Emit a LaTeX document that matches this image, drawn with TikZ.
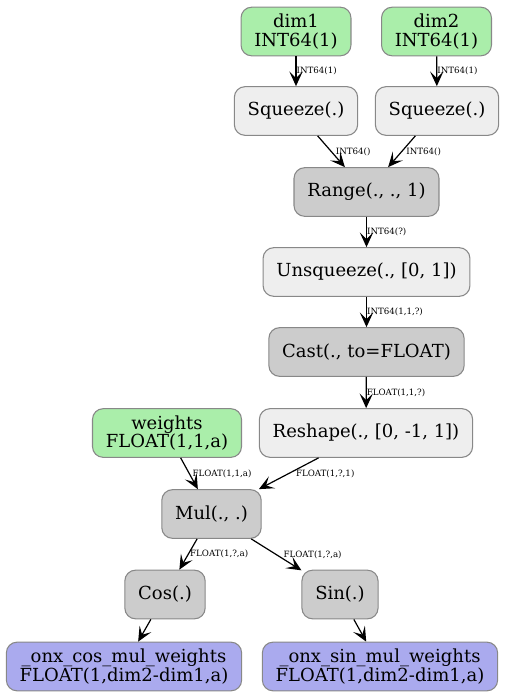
\documentclass[tikz,border=0pt]{standalone}
\usepackage{fontspec}
\setmainfont{DejaVu Serif}
\usetikzlibrary{arrows.meta}
\definecolor{inpgreen}{HTML}{AAEEAA}
\definecolor{outblue}{HTML}{AAAAEE}
\definecolor{oplight}{HTML}{EEEEEE}
\definecolor{opdark}{HTML}{CCCCCC}
\definecolor{boxline}{HTML}{888888}
\tikzset{
  box/.style={draw=boxline, line width=0.8pt, rounded corners=8pt, align=center,
    inner xsep=10pt, inner ysep=4.5pt, minimum height=36.5pt,
    font=\fontsize{13.5pt}{14pt}\selectfont},
  inp/.style={box, fill=inpgreen},
  outp/.style={box, fill=outblue},
  oplt/.style={box, fill=oplight},
  opdk/.style={box, fill=opdark},
  edge/.style={line width=0.9pt, -{Stealth[length=11pt, width=10pt, inset=5pt]}},
  lbl/.style={anchor=west, inner sep=0pt, font=\fontsize{6.5pt}{7pt}\selectfont}
}
\begin{document}
\begin{tikzpicture}[x=0.75pt, y=-0.75pt]
  \useasboundingbox (0,0) rectangle (504,697);
  % inputs
  \node[inp] (dim1) at (296,31.5) {dim1\\INT64(1)};
  \node[inp] (dim2) at (436.5,31.5) {dim2\\INT64(1)};
  \node[inp] (weights) at (167,433) {weights\\FLOAT(1,1,a)};
  % operators
  \node[oplt] (sq1) at (296,111) {Squeeze(.)};
  \node[oplt] (sq2) at (437,111) {Squeeze(.)};
  \node[opdk] (range) at (366.5,192) {Range(., ., 1)};
  \node[oplt] (unsq) at (366.5,272) {Unsqueeze(., [0, 1])};
  \node[opdk] (cast) at (366.5,352) {Cast(., to=FLOAT)};
  \node[oplt] (reshape) at (366,433) {Reshape(., [0, -1, 1])};
  \node[opdk] (mul) at (211.5,514) {Mul(., .)};
  \node[opdk] (cos) at (165,594.5) {Cos(.)};
  \node[opdk] (sin) at (340,594.5) {Sin(.)};
  % outputs
  \node[outp] (outcos) at (124,666.5) {\_onx\_cos\_mul\_weights\\FLOAT(1,dim2-dim1,a)};
  \node[outp] (outsin) at (380,666.5) {\_onx\_sin\_mul\_weights\\FLOAT(1,dim2-dim1,a)};
  % edges
  \foreach \a/\b/\t/\s in {dim1/sq1/{INT64(1)}/0pt, dim2/sq2/{INT64(1)}/0pt,
      sq1/range/{INT64()}/3pt, sq2/range/{INT64()}/3pt,
      range/unsq/{INT64(?)}/0pt, unsq/cast/{INT64(1,1,?)}/0pt,
      cast/reshape/{FLOAT(1,1,?)}/0pt, weights/mul/{FLOAT(1,1,a)}/2pt,
      reshape/mul/{FLOAT(1,?,1)}/5pt, mul/cos/{FLOAT(1,?,a)}/1pt,
      mul/sin/{FLOAT(1,?,a)}/5pt}
    {\draw[edge] (\a) -- node[lbl, xshift=\s] {\t} (\b);}
  \draw[edge] (cos) -- (outcos);
  \draw[edge] (sin) -- (outsin);
\end{tikzpicture}
\end{document}
